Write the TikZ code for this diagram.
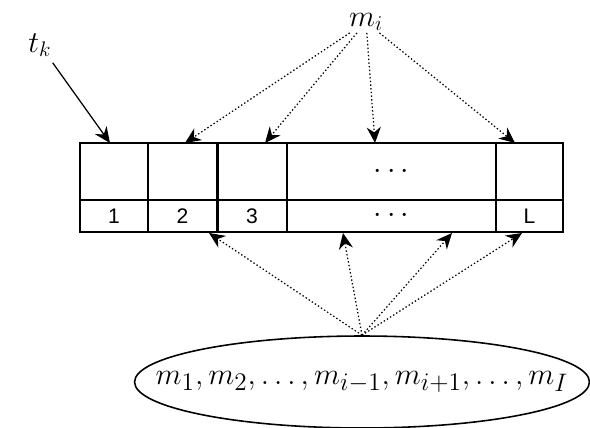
\documentclass[tikz,border=0pt]{standalone}
\usepackage{fontspec}
\usetikzlibrary{positioning,arrows.meta,shapes.geometric}
\newfontfamily\cellfont{Liberation Sans}

\begin{document}
\begin{tikzpicture}[x=0.02cm,y=-0.02cm,
      cell/.style={draw,line width=0.9pt,inner sep=0pt,minimum height=1.14cm,font=\cellfont\fontsize{12}{14}\selectfont},
      lab/.style={cell,minimum height=0.64cm},
      tip/.style={-{Stealth[length=9pt,width=8pt]}},
      dotarrow/.style={tip,line width=0.7pt,dash pattern=on 0.8pt off 1.3pt}]
    \useasboundingbox (0,0) rectangle (590,428);
    \node[cell,minimum width=1.36cm] (top1) at (114,171.5) {};
    \node[cell,minimum width=1.38cm] (top2) at (182.5,171.5) {};
    \node[cell,minimum width=1.40cm] (top3) at (252,171.5) {};
    \node[cell,minimum width=4.18cm] (top4) at (391.5,171.5) {\fontsize{18}{20}\selectfont$\cdots$};
    \node[cell,minimum width=1.34cm] (top5) at (529.5,171.5) {};
    \node[lab,minimum width=1.36cm] (lab1) at (114,216) {1};
    \node[lab,minimum width=1.38cm] (lab2) at (182.5,216) {2};
    \node[lab,minimum width=1.40cm] (lab3) at (252,216) {3};
    \node[lab,minimum width=4.18cm] (lab4) at (391.5,216) {\fontsize{18}{20}\selectfont$\cdots$};
    \node[lab,minimum width=1.34cm] (lab5) at (529.5,216) {L};
    \draw[line width=1.8pt] (top2.north east) -- (lab2.south east);
    \node (tk) at (40,45) {\fontsize{18}{20}\selectfont$t_k$};
    \node[inner sep=1pt] (mi) at (366,22) {\fontsize{17}{19}\selectfont$m_i$};
    \node[draw,ellipse,line width=0.9pt,inner sep=0pt,minimum width=9.1cm,minimum height=1.84cm] (rest) at (362,382) {};
    \node (restlabel) at (rest) {\fontsize{19}{22}\selectfont$m_1,m_2,\ldots,m_{i-1},m_{i+1},\ldots,m_I$};
    \coordinate (in0) at (110,143);
    \coordinate (in1) at (185,143);
    \coordinate (in2) at (265,143);
    \coordinate (in3) at (375,143);
    \coordinate (in4) at (515,143);
    \coordinate (up1) at (209,233);
    \coordinate (up2) at (343,233);
    \coordinate (up3) at (452,233);
    \coordinate (up4) at (522,233);
    \draw[tip,line width=0.7pt] (tk) -- (in0);
    \draw[dotarrow] (mi) -- (in1);
    \draw[dotarrow] (mi) -- (in2);
    \draw[dotarrow] (mi) -- (in3);
    \draw[dotarrow] (mi) -- (in4);
    \draw[dotarrow] (rest.north) -- (up1);
    \draw[dotarrow] (rest.north) -- (up2);
    \draw[dotarrow] (rest.north) -- (up3);
    \draw[dotarrow] (rest.north) -- (up4);
  \end{tikzpicture}
\end{document}
